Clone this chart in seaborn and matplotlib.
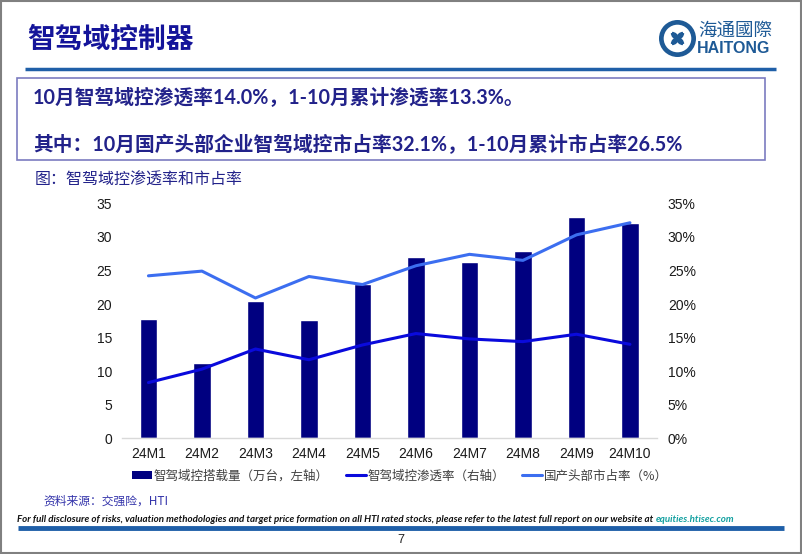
import matplotlib
matplotlib.use('Agg')
import matplotlib.pyplot as plt
import matplotlib.transforms as mtransforms
import seaborn as sns
import pandas as pd
from matplotlib.patches import Rectangle, Circle, Patch, Arc
from matplotlib.lines import Line2D

# ---------------- data ----------------
months = ['24M1', '24M2', '24M3', '24M4', '24M5', '24M6', '24M7', '24M8', '24M9', '24M10']
volume = [17.8, 11.2, 20.5, 17.6, 23.0, 27.0, 26.2, 27.9, 33.0, 32.1]          # 万台, left axis
penetration = [8.3, 10.3, 13.3, 11.7, 13.9, 15.6, 14.8, 14.4, 15.5, 14.0]       # %, right axis
share = [24.2, 24.9, 20.9, 24.1, 22.9, 25.7, 27.4, 26.5, 30.3, 32.1]            # %, right axis
left_ticks = [0, 5, 10, 15, 20, 25, 30, 35]
right_ticks = [0, 5, 10, 15, 20, 25, 30, 35]
right_tick_labels = ['0%', '5%', '10%', '15%', '20%', '25%', '30%', '35%']
legend_labels = ['智驾域控搭载量（万台，左轴）', '智驾域控渗透率（右轴）', '国产头部市占率（%）']

title = '智驾域控制器'
box_line1 = '10月智驾域控渗透率14.0%，1-10月累计渗透率13.3%。'
box_line2 = '其中：10月国产头部企业智驾域控市占率32.1%，1-10月累计市占率26.5%'
caption = '图：智驾域控渗透率和市占率'
source = '资料来源：交强险，HTI'
footer_main = 'For full disclosure of risks, valuation methodologies and target price formation on all HTI rated stocks, please refer to the latest full report on our website at '
footer_link = 'equities.htisec.com'
page_no = '7'

# ---------------- style ----------------
NAVY = '#000080'
PEN_C = '#0A0ADC'
SHARE_C = '#3C6EF0'
HEAD_C = '#14149A'
BOX_TXT = '#22228A'
LINE_BLUE = '#1F5FA8'
LOGO_C = '#1E5A96'
CJK = ['Noto Sans CJK SC', 'DejaVu Sans']

sns.set_theme(style='white')
plt.rcParams['font.family'] = ['Liberation Sans', 'Noto Sans CJK SC', 'DejaVu Sans']

W, H = 802, 554
fig = plt.figure(figsize=(W / 100, H / 100), dpi=100)

# overlay axes in pixel coordinates for page decorations
ov = fig.add_axes([0, 0, 1, 1], zorder=0)
ov.set_xlim(0, W)
ov.set_ylim(H, 0)
ov.axis('off')
ov.patch.set_alpha(0)

# border
ov.add_patch(Rectangle((0.8, 0.8), W - 1.6, H - 1.6, fill=False, edgecolor='#808080', lw=1.5))
# header
ov.text(27, 40, title, fontsize=20, fontweight='bold', color=HEAD_C, va='center', ha='left', family=CJK)
ov.plot([25, 776], [69, 69], color=LINE_BLUE, lw=2.5, solid_capstyle='butt')
# logo
ov.add_patch(Circle((677.5, 38.5), 18.5, facecolor=LOGO_C, edgecolor='none'))
ov.add_patch(Circle((677.5, 38.5), 13.8, facecolor='white', edgecolor='none'))
for (cx, cy, t1, t2) in [(672, 38.5, 270, 90), (683, 38.5, 90, 270), (677.5, 33, 0, 180), (677.5, 44, 180, 360)]:
    ov.add_patch(Arc((cx, cy), 10, 10, theta1=t1, theta2=t2, color=LOGO_C, lw=2.4))
ov.text(698, 31, '海通國際', fontsize=13.3, color=LOGO_C, va='center', ha='left', family=CJK)
ov.text(697, 48.5, 'HAITONG', fontsize=11.5, fontweight='bold', color=LOGO_C, va='center', ha='left')

# text box
ov.add_patch(Rectangle((17, 78), 748, 82, fill=False, edgecolor='#7B7BC0', lw=1.2))
ov.text(33, 98, box_line1, fontsize=14.2, fontweight='bold', color=BOX_TXT, va='center', ha='left',
        family=['Lato', 'Noto Sans CJK SC'])
ov.text(33, 145, box_line2, fontsize=14.2, fontweight='bold', color=BOX_TXT, va='center', ha='left',
        family=['Lato', 'Noto Sans CJK SC'])
ov.text(35, 180, caption, fontsize=11.5, color=BOX_TXT, va='center', ha='left', family=CJK)

# source + footer
ov.text(43, 501, source, fontsize=8.5, color='#3333AA', va='center', ha='left', family=CJK)
ftxt = ov.text(17, 519, footer_main, fontsize=7, style='italic', fontweight='bold', color='#111111',
               va='center', ha='left', family=['Lato'])
ov.plot([18, 784], [528, 528], color=LINE_BLUE, lw=3.5, solid_capstyle='butt')
ov.text(401, 540, page_no, fontsize=9, color='#222222', va='center', ha='center')

# ---------------- chart ----------------
df = pd.DataFrame({'month': months, 'volume': volume, 'penetration': penetration, 'share': share})

ax = fig.add_axes([121.7 / W, (H - 438.3) / H, 535 / W, 235 / H], zorder=1)
ax.patch.set_alpha(0)
sns.barplot(data=df, x='month', y='volume', color=NAVY, saturation=1, width=0.33, ax=ax)
ax.set_xlim(-0.5, len(months) - 0.5)
ax.set_ylim(0, 35)
ax.set_yticks(left_ticks)
ax.set_xlabel('')
ax.set_ylabel('')
for s in ['top', 'left', 'right']:
    ax.spines[s].set_visible(False)
ax.spines['bottom'].set_color('#D9D9D9')
ax.spines['bottom'].set_linewidth(1)
ax.tick_params(axis='y', length=0, pad=7, labelsize=10, labelcolor='#1a1a1a')
ax.tick_params(axis='x', length=0, pad=6, labelsize=10, labelcolor='#1a1a1a')

ax2 = ax.twinx()
sns.lineplot(data=df, x='month', y='share', ax=ax2, color=SHARE_C, linewidth=2.2, sort=False)
sns.lineplot(data=df, x='month', y='penetration', ax=ax2, color=PEN_C, linewidth=2.2, sort=False)
ax2.set_ylim(0, 35)
ax2.set_yticks(right_ticks)
ax2.set_yticklabels(right_tick_labels)
ax2.set_ylabel('')
ax2.set_xlabel('')
for s in ax2.spines.values():
    s.set_visible(False)
ax2.tick_params(axis='y', length=0, pad=8, labelsize=10, labelcolor='#1a1a1a')
ax.set_xlim(-0.5, len(months) - 0.5)

handles = [Patch(facecolor=NAVY, edgecolor='none'),
           Line2D([], [], color=PEN_C, lw=2.2),
           Line2D([], [], color=SHARE_C, lw=2.2)]
fig.legend(handles, legend_labels, loc='center', bbox_to_anchor=(400 / W, 1 - 476 / H), ncol=3,
           frameon=False, prop={'family': CJK, 'size': 9}, handlelength=1.6, handleheight=0.6,
           handletextpad=0.1, columnspacing=1.4, labelcolor='#404040')

# footer link placed right after the main footer text
fig.canvas.draw()
bb = ftxt.get_window_extent()
ov.text(bb.x1, 519, footer_link, fontsize=7, style='italic', fontweight='bold', color='#12A0A0',
        va='center', ha='left', family=['Lato'],
        transform=mtransforms.blended_transform_factory(mtransforms.IdentityTransform(), ov.transData))

fig.savefig('out.png', dpi=100)
